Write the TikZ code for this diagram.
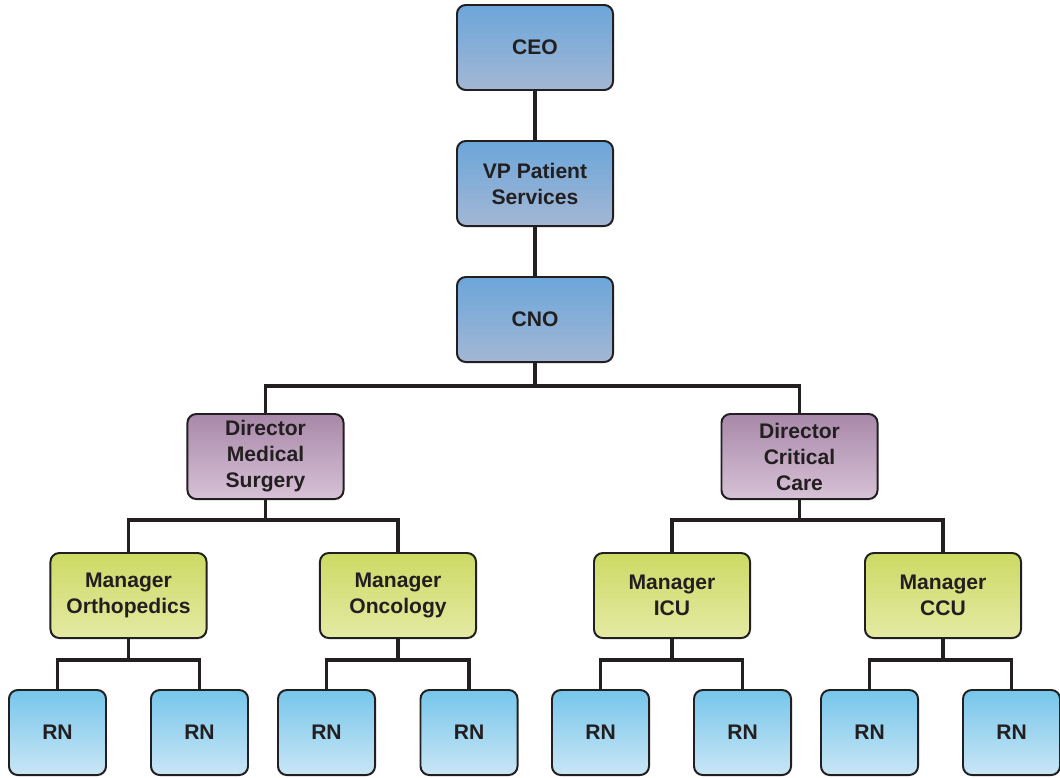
\documentclass[tikz,border=0pt]{standalone}
\usepackage{fontspec}
\setmainfont{Liberation Sans}

\definecolor{exectop}{RGB}{108,166,218}
\definecolor{execbot}{RGB}{163,183,212}
\definecolor{dirtop}{RGB}{168,136,168}
\definecolor{dirbot}{RGB}{215,194,215}
\definecolor{mgrtop}{RGB}{204,218,100}
\definecolor{mgrbot}{RGB}{228,234,164}
\definecolor{rntop}{RGB}{118,198,234}
\definecolor{rnbot}{RGB}{202,230,246}
\definecolor{inkgray}{RGB}{35,31,32}

\tikzset{
  box/.style={draw=inkgray,line width=1.4pt,rounded corners=0.22cm,align=center,
    text=inkgray,font=\fontsize{15}{18.5}\selectfont\bfseries,
    minimum width=3.9cm,minimum height=2.125cm,inner sep=0pt},
  execbox/.style={box,top color=exectop,bottom color=execbot},
  dirbox/.style={box,top color=dirtop,bottom color=dirbot},
  mgrbox/.style={box,top color=mgrtop,bottom color=mgrbot},
  rnbox/.style={box,top color=rntop,bottom color=rnbot,minimum width=2.425cm},
  conn/.style={draw=inkgray,line width=2.8pt}
}

\begin{document}
\begin{tikzpicture}[x=0.025cm,y=0.025cm]
\useasboundingbox (0,0) rectangle (1060,-777);

% top of the chart
\node[execbox] (ceo) at (535,-47.5) {CEO};
\node[execbox] (vp) at (535,-183.5) {VP Patient\\Services};
\node[execbox] (cno) at (535,-319.5) {CNO};

% directors
\node[dirbox] (dmed) at (265.5,-456.5) {Director\\Medical\\Surgery};
\node[dirbox] (dcrit) at (799.5,-456.5) {Director\\Critical\\Care};

% managers
\node[mgrbox] (mortho) at (128.5,-595.5) {Manager\\Orthopedics};
\node[mgrbox] (monco) at (398,-595.5) {Manager\\Oncology};
\node[mgrbox] (micu) at (672,-595.5) {Manager\\ICU};
\node[mgrbox] (mccu) at (943,-595.5) {Manager\\CCU};

% nurses
\node[rnbox] (rn1) at (57.5,-732.5) {RN};
\node[rnbox] (rn2) at (199.5,-732.5) {RN};
\node[rnbox] (rn3) at (326.5,-732.5) {RN};
\node[rnbox] (rn4) at (469,-732.5) {RN};
\node[rnbox] (rn5) at (600.5,-732.5) {RN};
\node[rnbox] (rn6) at (742.5,-732.5) {RN};
\node[rnbox] (rn7) at (869.5,-732.5) {RN};
\node[rnbox] (rn8) at (1011.5,-732.5) {RN};

\draw[conn] (ceo.south) -- (vp.north);
\draw[conn] (vp.south) -- (cno.north);
\draw[conn] (cno.south) -- ++(0,-23) -| (dmed.north);
\draw[conn] (cno.south) -- ++(0,-23) -| (dcrit.north);

\draw[conn] (dmed.south) -- ++(0,-20) -| (mortho.north);
\draw[conn] (dmed.south) -- ++(0,-20) -| (monco.north);
\draw[conn] (dcrit.south) -- ++(0,-20) -| (micu.north);
\draw[conn] (dcrit.south) -- ++(0,-20) -| (mccu.north);

\draw[conn] (mortho.south) -- ++(0,-21) -| (rn1.north);
\draw[conn] (mortho.south) -- ++(0,-21) -| (rn2.north);
\draw[conn] (monco.south) -- ++(0,-21) -| (rn3.north);
\draw[conn] (monco.south) -- ++(0,-21) -| (rn4.north);
\draw[conn] (micu.south) -- ++(0,-21) -| (rn5.north);
\draw[conn] (micu.south) -- ++(0,-21) -| (rn6.north);
\draw[conn] (mccu.south) -- ++(0,-21) -| (rn7.north);
\draw[conn] (mccu.south) -- ++(0,-21) -| (rn8.north);

\end{tikzpicture}
\end{document}
